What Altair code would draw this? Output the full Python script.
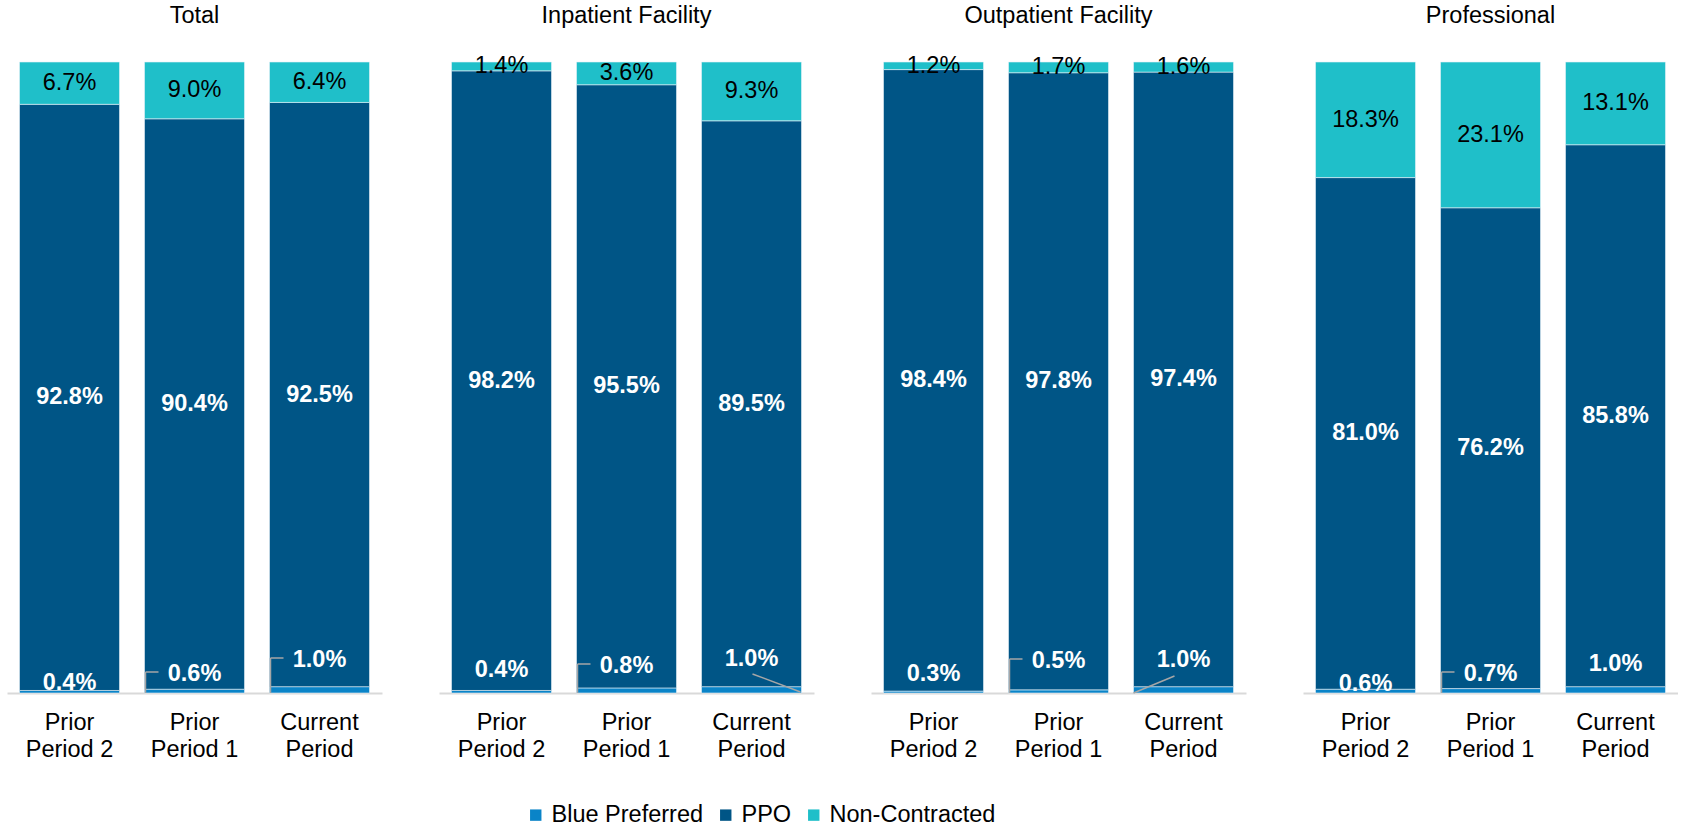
import altair as alt
import pandas as pd

# ---------------- data ----------------
panels = ["Total", "Inpatient Facility", "Outpatient Facility", "Professional"]
periods = ["Prior Period 2", "Prior Period 1", "Current Period"]
segments = ["Blue Preferred", "PPO", "Non-Contracted"]

blue_preferred = [[0.4, 0.6, 1.0], [0.4, 0.8, 1.0], [0.3, 0.5, 1.0], [0.6, 0.7, 1.0]]
ppo = [[92.8, 90.4, 92.5], [98.2, 95.5, 89.5], [98.4, 97.8, 97.4], [81.0, 76.2, 85.8]]
non_contracted = [[6.7, 9.0, 6.4], [1.4, 3.6, 9.3], [1.2, 1.7, 1.6], [18.3, 23.1, 13.1]]

# ---------------- style ----------------
colors = ["#0A84C8", "#005586", "#1FBFC9"]
PLOT_W = 375
PLOT_H = 631
FS = 23.5
FONT = "Liberation Sans"
TITLE_Y = -46  # panel title centre, px above the plot top
# lift (px above baseline) of the small "Blue Preferred" labels
bp_lift = [[10, 19, 33], [23, 27, 34], [19, 32, 33], [9, 19, 29]]
# leader line shapes for the small labels
leader_kind = [[None, "elbow", "elbow"], [None, "elbow", "diag_right"],
               [None, "elbow", "diag_left"], [None, "elbow", None]]

rows, bp_rows = [], []
for i, p in enumerate(panels):
    for j, per in enumerate(periods):
        for k, (seg, arr) in enumerate(zip(segments, [blue_preferred, ppo, non_contracted])):
            rows.append({"panel": p, "period": per, "segment": seg, "seg_order": k, "value": arr[i][j]})
        lift = bp_lift[i][j]
        bp_rows.append({"panel": p, "period": per, "value": blue_preferred[i][j],
                        "kind": leader_kind[i][j] or "none",
                        "yf": lift / PLOT_H,
                        "elbow_y": (lift + 2) / PLOT_H,
                        "diag_r_y": (lift - 15) / PLOT_H,
                        "diag_l_y": (lift - 16) / PLOT_H,
                        "base_y": 0.0,
                        "base_y1": 1.0 / PLOT_H})

df = pd.DataFrame(rows)
df_bp = pd.DataFrame(bp_rows)

label_expr = ("[substring(datum.value, 0, indexof(datum.value, ' ')), "
              "substring(datum.value, indexof(datum.value, ' ') + 1)]")

xscale = alt.Scale(domain=periods, paddingInner=0.2, paddingOuter=0.1)
xaxis = alt.Axis(title=None, labelAngle=0, ticks=False, domainColor="#D9D9D9", domainWidth=2,
                 labelFontSize=FS, labelColor="black", labelPadding=17, labelLineHeight=27,
                 labelExpr=label_expr, labelFont=FONT)
yscale = alt.Scale(domain=[0, 1])

legend = alt.Legend(title=None, orient="none", direction="horizontal", legendX=517, legendY=741,
                    symbolType="square", symbolSize=130, labelFontSize=FS, labelColor="black",
                    labelFont=FONT, columnPadding=10, symbolStrokeWidth=0, labelOffset=4,
                    labelLimit=400)

LEADER = dict(color="#A6A6A6", strokeWidth=1.5)


def xb(pos):
    return alt.X("period:N", sort=periods, scale=xscale, axis=xaxis, bandPosition=pos)


def make_panel(name):
    d = df[df.panel == name]
    dbp = df_bp[df_bp.panel == name]
    xenc = alt.X("period:N", sort=periods, scale=xscale, axis=xaxis)
    base = alt.Chart(d).transform_stack(
        stack="value", groupby=["panel", "period"], sort=[alt.SortField("seg_order")],
        as_=["y0", "y1"], offset="normalize"
    ).transform_calculate(
        mid="(datum.y0 + datum.y1) / 2",
        label="format(datum.value, '.1f') + '%'"
    )
    bars = base.mark_bar(stroke="#E8F1F8", strokeWidth=0.6).encode(
        x=xenc,
        y=alt.Y("y0:Q", scale=yscale, axis=None),
        y2="y1:Q",
        color=alt.Color("segment:N", scale=alt.Scale(domain=segments, range=colors), legend=legend),
    )
    nc_text = base.transform_filter(alt.datum.segment == "Non-Contracted").mark_text(
        fontSize=FS, color="black", font=FONT, baseline="middle"
    ).encode(x=xenc, y=alt.Y("mid:Q", scale=yscale, axis=None), text="label:N")
    ppo_text = base.transform_filter(alt.datum.segment == "PPO").mark_text(
        fontSize=FS, color="white", fontWeight="bold", font=FONT, baseline="middle"
    ).encode(x=xenc, y=alt.Y("mid:Q", scale=yscale, axis=None), text="label:N")

    bp_base = alt.Chart(dbp).transform_calculate(label="format(datum.value, '.1f') + '%'")
    bp_text = bp_base.mark_text(fontSize=FS, color="white", fontWeight="bold", font=FONT,
                                baseline="middle").encode(
        x=xenc, y=alt.Y("yf:Q", scale=yscale, axis=None), text="label:N")

    elbow = bp_base.transform_filter(alt.datum.kind == "elbow")
    elbow_v = elbow.mark_rule(**LEADER).encode(
        x=xb(0.01), y=alt.Y("base_y:Q", scale=yscale, axis=None), y2="elbow_y:Q")
    elbow_h = elbow.mark_rule(**LEADER).encode(
        x=xb(0.01), x2=alt.X2("period:N", bandPosition=0.14),
        y=alt.Y("elbow_y:Q", scale=yscale, axis=None))
    diag_r = bp_base.transform_filter(alt.datum.kind == "diag_right").mark_rule(**LEADER).encode(
        x=xb(0.51), x2=alt.X2("period:N", bandPosition=0.99),
        y=alt.Y("diag_r_y:Q", scale=yscale, axis=None), y2="base_y1:Q")
    diag_l = bp_base.transform_filter(alt.datum.kind == "diag_left").mark_rule(**LEADER).encode(
        x=xb(0.0), x2=alt.X2("period:N", bandPosition=0.41),
        y=alt.Y("base_y:Q", scale=yscale, axis=None), y2="diag_l_y:Q")

    title = alt.Chart(pd.DataFrame({"t": [name]})).mark_text(
        fontSize=FS, color="black", font=FONT, baseline="middle", align="center"
    ).encode(x=alt.value(PLOT_W / 2), y=alt.value(TITLE_Y), text="t:N")

    layers = [bars, nc_text, ppo_text, bp_text, elbow_v, elbow_h, diag_r, diag_l, title]
    return alt.layer(*layers).properties(width=PLOT_W, height=PLOT_H)


chart = alt.hconcat(*[make_panel(p) for p in panels], spacing=57).properties(
    padding={"left": 7, "top": 4, "right": 0, "bottom": 0}
).configure(font=FONT).configure_view(stroke=None)

chart.save("out.html", embed_options={"renderer": "svg", "actions": False})
